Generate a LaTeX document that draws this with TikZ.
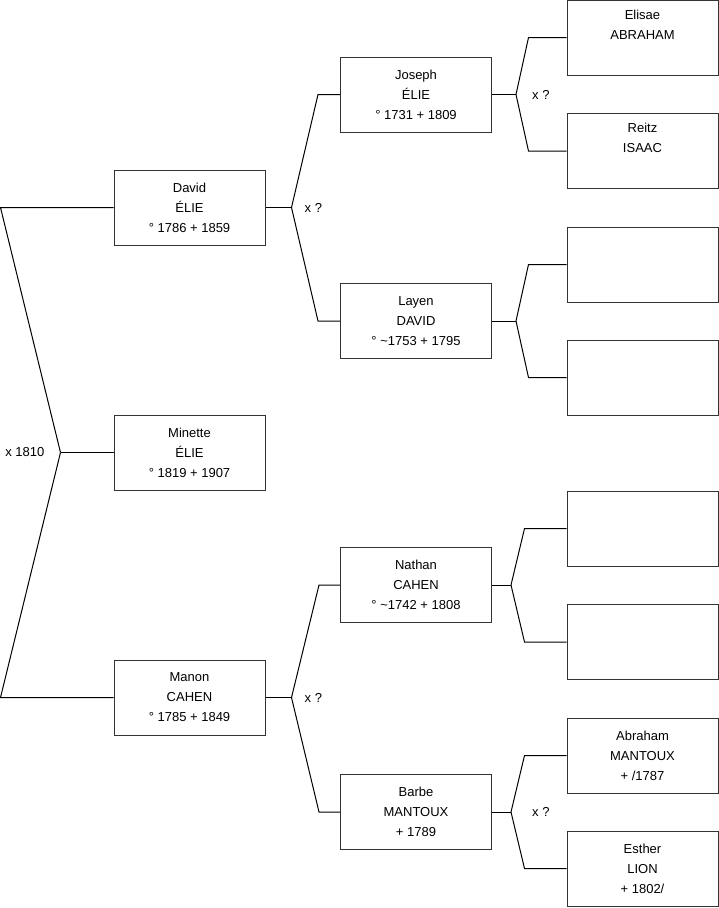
\documentclass[tikz,border=0pt]{standalone}
\usepackage{fontspec}
\setmainfont{Liberation Sans}
\usetikzlibrary{positioning,calc}

\begin{document}
\begin{tikzpicture}[x=1pt, y=-1pt,
    person/.style={rectangle, draw=black!80, line width=1pt, minimum width=151pt,
    minimum height=75pt, inner sep=0pt, align=center,
    font=\fontsize{13}{20}\selectfont},
    link/.style={line width=1pt},
    union/.style={inner sep=0pt, font=\fontsize{13}{15}\selectfont}]

    \useasboundingbox (0,0) rectangle (719,908);

    % Generation 1
    \node[person] (david) at (189.5,207.5) {David\\ÉLIE\\° 1786 + 1859};
    \node[person] (minette) at (189.5,452.5) {Minette\\ÉLIE\\° 1819 + 1907};
    \node[person] (manon) at (189.5,697.5) {Manon\\CAHEN\\° 1785 + 1849};

    % Generation 2
    \node[person] (joseph) at (416,94.5) {Joseph\\ÉLIE\\° 1731 + 1809};
    \node[person] (layen) at (416,321) {Layen\\DAVID\\° \textasciitilde1753 + 1795};
    \node[person] (nathan) at (416,585) {Nathan\\CAHEN\\° \textasciitilde1742 + 1808};
    \node[person] (barbe) at (416,812) {Barbe\\MANTOUX\\+ 1789};

    % Generation 3
    \node[person] (elisae) at (642.5,37.5) {Elisae\\ABRAHAM\\\strut};
    \node[person] (reitz) at (642.5,151) {Reitz\\ISAAC\\\strut};
    \node[person] (blankA) at (642.5,264.5) {};
    \node[person] (blankB) at (642.5,377.5) {};
    \node[person] (blankC) at (642.5,528.5) {};
    \node[person] (blankD) at (642.5,642) {};
    \node[person] (abraham) at (642.5,755.5) {Abraham\\MANTOUX\\+ /1787};
    \node[person] (esther) at (642.5,868.5) {Esther\\LION\\+ 1802/};

    % Fork points
    \coordinate (fkMinette) at ([xshift=-53]minette.west);
    \coordinate (fkDavid) at ([xshift=26]david.east);
    \coordinate (fkManon) at ([xshift=26]manon.east);
    \coordinate (fkJoseph) at ([xshift=24]joseph.east);
    \coordinate (fkLayen) at ([xshift=24]layen.east);
    \coordinate (fkNathan) at ([xshift=19]nathan.east);
    \coordinate (fkBarbe) at ([xshift=19]barbe.east);

    % Unions
    \node[union, left=16pt of fkMinette] (uMinette) {x 1810};
    \node[union, right=13pt of fkDavid] (uDavid) {x ?};
    \node[union, right=13pt of fkManon] (uManon) {x ?};
    \node[union, right=16pt of fkJoseph] (uJoseph) {x ?};
    \node[union, right=21pt of fkBarbe] (uBarbe) {x ?};

    % Links
    \draw[link] (minette.west) -- (fkMinette);
    \draw[link] (fkMinette) -- ([xshift=-113]david.west) -- (david.west);
    \draw[link] (fkMinette) -- ([xshift=-113]manon.west) -- (manon.west);

    \draw[link] (david.east) -- (fkDavid);
    \draw[link] (fkDavid) -- ([xshift=-22]joseph.west) -- (joseph.west);
    \draw[link] (fkDavid) -- ([xshift=-22]layen.west) -- (layen.west);

    \draw[link] (manon.east) -- (fkManon);
    \draw[link] (fkManon) -- ([xshift=-21]nathan.west) -- (nathan.west);
    \draw[link] (fkManon) -- ([xshift=-21]barbe.west) -- (barbe.west);

    \draw[link] (joseph.east) -- (fkJoseph);
    \draw[link] (fkJoseph) -- ([xshift=-38]elisae.west) -- (elisae.west);
    \draw[link] (fkJoseph) -- ([xshift=-38]reitz.west) -- (reitz.west);

    \draw[link] (layen.east) -- (fkLayen);
    \draw[link] (fkLayen) -- ([xshift=-38]blankA.west) -- (blankA.west);
    \draw[link] (fkLayen) -- ([xshift=-38]blankB.west) -- (blankB.west);

    \draw[link] (nathan.east) -- (fkNathan);
    \draw[link] (fkNathan) -- ([xshift=-42]blankC.west) -- (blankC.west);
    \draw[link] (fkNathan) -- ([xshift=-42]blankD.west) -- (blankD.west);

    \draw[link] (barbe.east) -- (fkBarbe);
    \draw[link] (fkBarbe) -- ([xshift=-42]abraham.west) -- (abraham.west);
    \draw[link] (fkBarbe) -- ([xshift=-42]esther.west) -- (esther.west);
\end{tikzpicture}
\end{document}
